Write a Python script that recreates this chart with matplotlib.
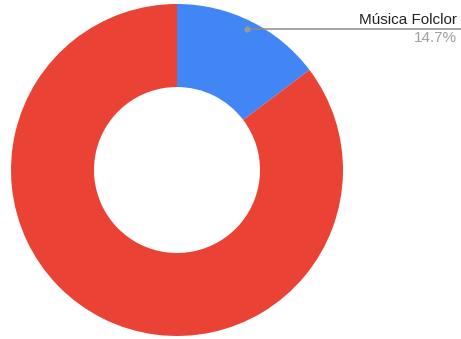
import numpy as np
from matplotlib import pyplot as plt

plt.rcParams['font.family'] = ['Liberation Sans', 'DejaVu Sans']

# data
categories = ['Música Folclor', 'Otros']
shares = [14.7, 85.3]
slice_colors = ['#4285F4', '#EA4335']

W, H = 461, 339
fig = plt.figure(figsize=(W / 100, H / 100), dpi=100)
ax = fig.add_axes([0, 0, 1, 1])

cx, cy = 177, H - 170
R = 166
wedges, _ = ax.pie(shares, colors=slice_colors, startangle=90, counterclock=False,
                   center=(cx, cy), radius=R, frame=True,
                   wedgeprops=dict(width=R * 0.5, linewidth=0))
ax.set_xlim(0, W)
ax.set_ylim(0, H)
ax.set_aspect('equal')
ax.axis('off')

# leader label for the first slice
mid = np.deg2rad(90 - shares[0] / sum(shares) * 360 / 2)
px = cx + 157 * np.cos(mid)
py = cy + 157 * np.sin(mid)
ax.plot([px, W], [py, py], color='#8a8a8a', lw=1.1, solid_capstyle='butt')
ax.plot([px], [py], 'o', color='#999999', ms=3.5)
ax.text(W - 4, py + 2, categories[0], ha='right', va='bottom', fontsize=11, color='#222222')
ax.text(W - 4, py - 2, '{:.1f}%'.format(shares[0]), ha='right', va='top', fontsize=11, color='#9e9e9e')

fig.savefig('out.png', dpi=100)
